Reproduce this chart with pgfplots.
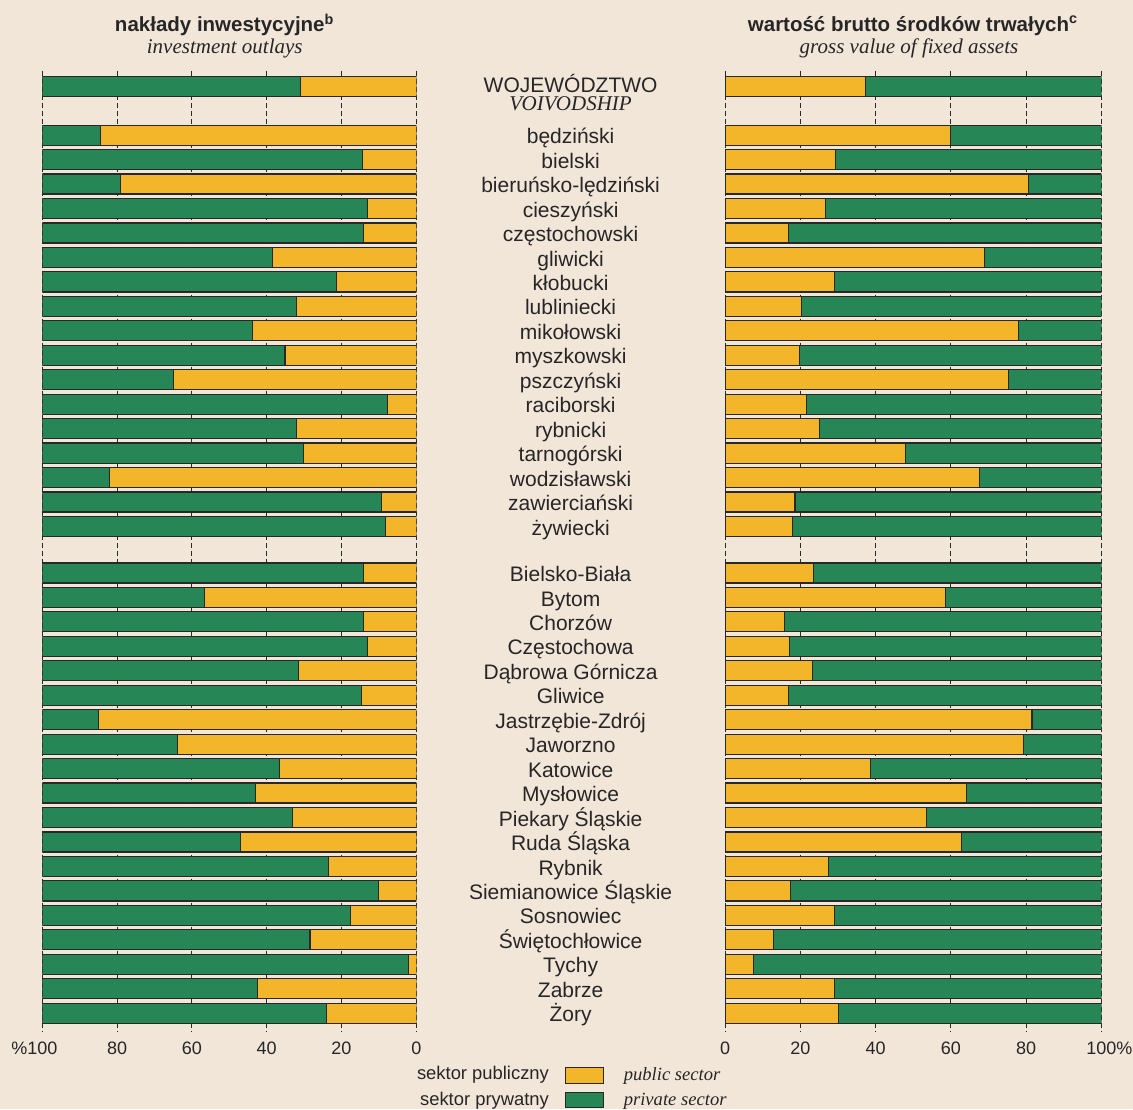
\documentclass[border=0pt]{standalone}
\usepackage{fontspec}
\setmainfont{Liberation Sans}
\newfontfamily\serifit{Liberation Serif}
\usepackage{pgfplots}
\usepackage{pgfplotstable}
\pgfplotsset{compat=1.18}
\definecolor{bg}{RGB}{242,230,217}
\definecolor{pub}{RGB}{243,181,42}
\definecolor{priv}{RGB}{38,134,86}
\definecolor{edge}{RGB}{40,40,40}

\pgfplotstableread{
pos invpub invpriv fapub fapriv
0    31.0 69.0 37.3 62.7
2    84.4 15.6 59.9 40.1
3    14.4 85.6 29.3 70.7
4    79.1 20.9 80.6 19.4
5    13.1 86.9 26.6 73.4
6    14.1 85.9 16.9 83.1
7    38.5 61.5 68.9 31.1
8    21.4 78.6 29.0 71.0
9    32.1 67.9 20.3 79.7
10   43.9 56.1 78.0 22.0
11   35.1 64.9 19.9 80.1
12   65.0 35.0 75.4 24.6
13   7.8  92.2 21.6 78.4
14   32.1 67.9 25.2 74.8
15   30.1 69.9 47.9 52.1
16   82.1 17.9 67.6 32.4
17   9.4  90.6 18.6 81.4
18   8.3  91.7 17.9 82.1
19.9 14.1 85.9 23.6 76.4
20.9 56.6 43.4 58.5 41.5
21.9 14.1 85.9 15.9 84.1
22.9 13.1 86.9 17.2 82.8
23.9 31.5 68.5 23.2 76.8
24.9 14.7 85.3 16.8 83.2
25.9 85.0 15.0 81.6 18.4
26.9 63.9 36.1 79.3 20.7
27.9 36.5 63.5 38.6 61.4
28.9 43.1 56.9 64.2 35.8
29.9 33.2 66.8 53.6 46.4
30.9 46.9 53.1 62.9 37.1
31.9 23.4 76.6 27.5 72.5
32.9 10.1 89.9 17.5 82.5
33.9 17.7 82.3 29.2 70.8
34.9 28.4 71.6 12.8 87.2
35.9 2.0  98.0 7.5  92.5
36.9 42.5 57.5 29.2 70.8
37.9 24.1 75.9 30.2 69.8
}\data

\pgfplotsset{halfchart/.style={
  scale only axis, height=480.65pt, anchor=north west,
  xmin=0, xmax=100, ymin=-0.634, ymax=38.67, y dir=reverse,
  xbar stacked, bar width=0.82,
  axis line style={draw=none}, major tick length=0pt,
  ytick=\empty, xtick={0,20,40,60,80,100},
  xmajorgrids, major grid style={edge, line width=0.5pt, dash pattern=on 2.5pt off 1.5pt},
  xticklabel style={font=\fontsize{9}{10}\selectfont, text=black!85, anchor=base, yshift=-11.15pt},
  /pgf/number format/assume math mode=true,
  every axis plot/.append style={draw=edge, line width=0.6pt},
}}

\begin{document}
\begin{tikzpicture}
\fill[bg] (0,0) rectangle (566.5pt,554.5pt);

\begin{axis}[halfchart, at={(21.15pt,519.15pt)}, width=187pt, x dir=reverse,
  xticklabels={0,20,40,60,80,\llap{\%}100}]
\addplot[fill=pub] table[x=invpub,y=pos]{\data};
\addplot[fill=priv] table[x=invpriv,y=pos]{\data};
\end{axis}

\begin{axis}[halfchart, at={(362.5pt,519.15pt)}, width=188.15pt,
  xticklabels={0,20,40,60,80,100\rlap{\%}}]
\addplot[fill=pub] table[x=fapub,y=pos]{\data};
\addplot[fill=priv] table[x=fapriv,y=pos]{\data};
\end{axis}

% titles
\node[anchor=base, font=\fontsize{10.25}{12}\selectfont\bfseries, text=black!85] at (112.35pt,538.65pt) {nakłady inwestycyjne\textsuperscript{b}};
\node[anchor=base, font=\fontsize{10.5}{12}\selectfont\serifit\itshape, text=black!85] at (112.35pt,527.85pt) {investment outlays};
\node[anchor=base, font=\fontsize{10.25}{12}\selectfont\bfseries, text=black!85] at (456.5pt,538.9pt) {wartość brutto środków trwałych\textsuperscript{c}};
\node[anchor=base, font=\fontsize{10.5}{12}\selectfont\serifit\itshape, text=black!85] at (454.5pt,527.85pt) {gross value of fixed assets};

% centre labels
\node[anchor=base, inner sep=0pt, align=center, font=\fontsize{10.5}{9.3}\selectfont, text=black!85] at (285.3pt,499.0pt) {WOJEWÓDZTWO\\{\serifit\itshape VOIVODSHIP}};
\foreach \p/\n in {2/będziński,3/bielski,4/bieruńsko-lędziński,5/cieszyński,6/częstochowski,7/gliwicki,8/kłobucki,9/lubliniecki,10/mikołowski,11/myszkowski,12/pszczyński,13/raciborski,14/rybnicki,15/tarnogórski,16/wodzisławski,17/zawierciański,18/żywiecki,19.9/Bielsko-Biała,20.9/Bytom,21.9/Chorzów,22.9/Częstochowa,23.9/Dąbrowa Górnicza,24.9/Gliwice,25.9/Jastrzębie-Zdrój,26.9/Jaworzno,27.9/Katowice,28.9/Mysłowice,29.9/Piekary Śląskie,30.9/Ruda Śląska,31.9/Rybnik,32.9/Siemianowice Śląskie,33.9/Sosnowiec,34.9/Świętochłowice,35.9/Tychy,36.9/Zabrze,37.9/Żory}
  \node[anchor=base, inner sep=0pt, font=\fontsize{10.5}{12}\selectfont, text=black!85] at (285.3pt,{507.1pt-12.23pt*\p}) {\n};

% legend
\node[anchor=base east, font=\fontsize{9.2}{11}\selectfont, text=black!85] at (278pt,14.85pt) {sektor publiczny};
\filldraw[fill=pub, draw=edge, line width=0.6pt] (282.85pt,12.85pt) rectangle (301.85pt,20.65pt);
\node[anchor=base west, font=\fontsize{9.3}{11}\selectfont\serifit\itshape, text=black!85] at (308.35pt,14.5pt) {public sector};
\node[anchor=base east, font=\fontsize{9.2}{11}\selectfont, text=black!85] at (278pt,2pt) {sektor prywatny};
\filldraw[fill=priv, draw=edge, line width=0.6pt] (282.85pt,0.6pt) rectangle (301.85pt,8.15pt);
\node[anchor=base west, font=\fontsize{9.3}{11}\selectfont\serifit\itshape, text=black!85] at (308.35pt,2pt) {private sector};

\pgfresetboundingbox
\path (0,0) rectangle (566.5pt,554.5pt);
\end{tikzpicture}
\end{document}
